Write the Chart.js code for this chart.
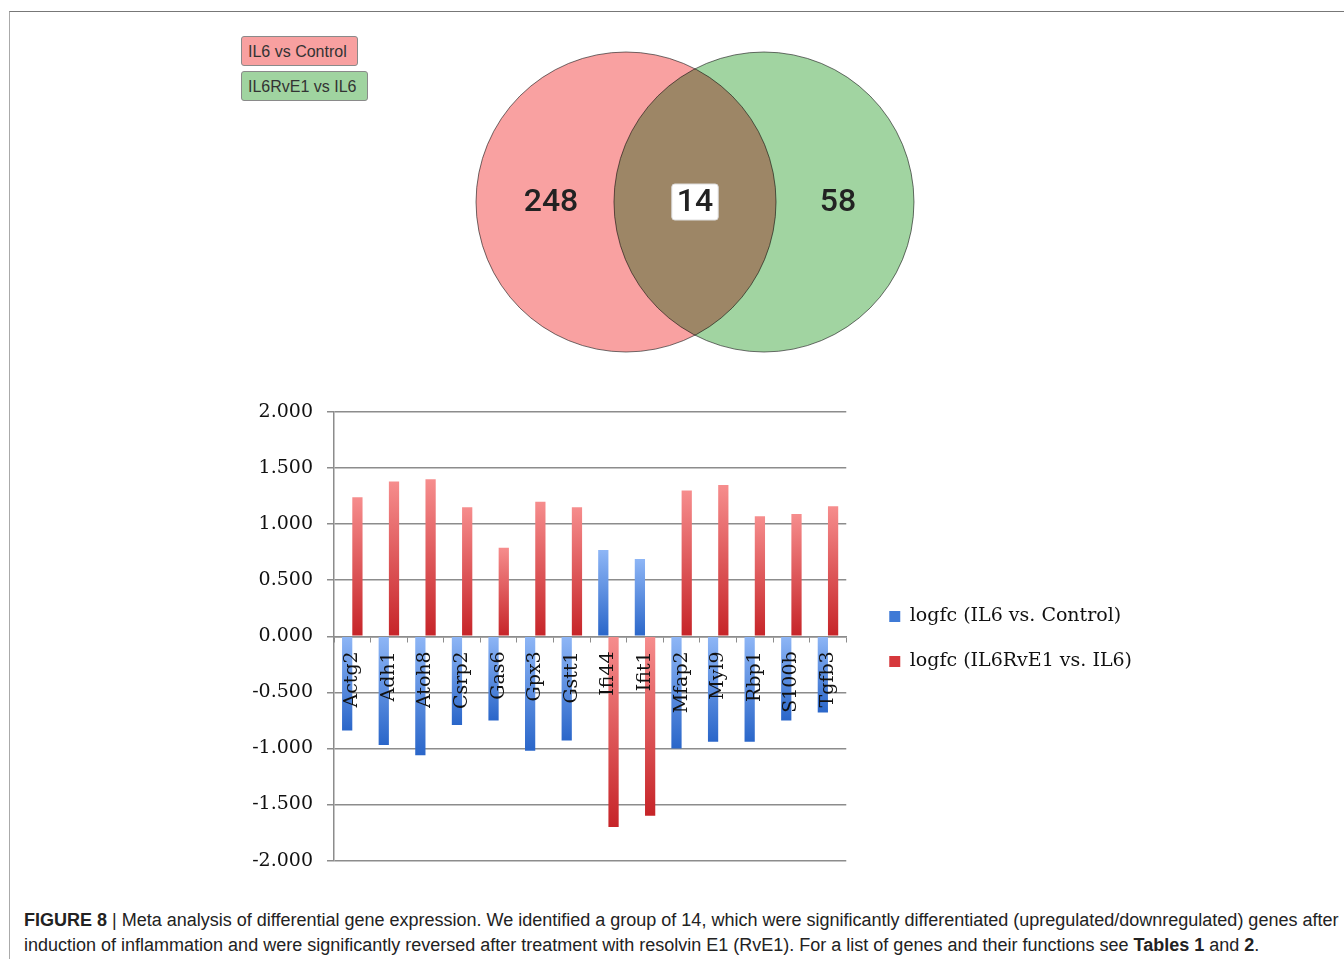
<!DOCTYPE html>
<html>
<head>
<meta charset="utf-8">
<script src="https://cdn.jsdelivr.net/npm/chart.js@4.4.1/dist/chart.umd.min.js"></script>
<style>
  body { margin: 0; background: #fff; }
  #page { position: relative; width: 1344px; height: 959px; overflow: hidden; font-family: "Liberation Sans", Arial, sans-serif; }
  #frame { position: absolute; left: 9px; top: 11px; width: 1400px; height: 1000px; border-top: 1px solid #777; border-left: 1px solid #aaa; }
  .vkey { position: absolute; left: 241px; height: 30px; line-height: 29px; padding-left: 6px; border: 1px solid #8a8a8a; border-radius: 3px; font-size: 16px; color: #333; box-sizing: border-box; }
  #k1 { top: 36px; width: 117px; background: #f8a0a0; }
  #k2 { top: 71px; width: 127px; background: #a0d4a0; }
  #venn { position: absolute; left: 426px; top: 42px; }
  #bars { position: absolute; left: 0; top: 380px; }
  #caption { position: absolute; left: 24px; top: 908px; font-size: 18px; line-height: 25px; color: #222; white-space: nowrap; }
</style>
</head>
<body>
<div id="page">
  <div id="frame"></div>
  <div class="vkey" id="k1"></div>
  <div class="vkey" id="k2"></div>
  <canvas id="venn" width="538" height="320"></canvas>
  <canvas id="bars" width="1344" height="506"></canvas>
  <div id="caption"><b>FIGURE 8</b> | Meta analysis of differential gene expression. We identified a group of 14, which were significantly differentiated (upregulated/downregulated) genes after<br>induction of inflammation and were significantly reversed after treatment with resolvin E1 (RvE1). For a list of genes and their functions see <b>Tables 1</b> and <b>2</b>.</div>
</div>
<script>
// venn: the two comparisons and the counts (only first, shared, only second)
const vennSets = ["IL6 vs Control", "IL6RvE1 vs IL6"];
const vennCounts = [248, 14, 58];

// bar chart data
const genes = ["Actg2", "Adh1", "Atoh8", "Csrp2", "Gas6", "Gpx3", "Gstt1", "Ifi44", "Ifit1", "Mfap2", "Myl9", "Rbp1", "S100b", "Tgfb3"];
const seriesNames = ["logfc (IL6 vs. Control)", "logfc (IL6RvE1 vs. IL6)"];
const il6VsControl = [-0.84, -0.97, -1.06, -0.79, -0.75, -1.02, -0.93, 0.77, 0.69, -1.00, -0.94, -0.94, -0.75, -0.68];
const rve1VsIl6 = [1.24, 1.38, 1.40, 1.15, 0.79, 1.20, 1.15, -1.70, -1.60, 1.30, 1.35, 1.07, 1.09, 1.16];
const yTicks = [-2, -1.5, -1, -0.5, 0, 0.5, 1, 1.5, 2];

document.getElementById("k1").textContent = vennSets[0];
document.getElementById("k2").textContent = vennSets[1];

// --- venn diagram (bubble chart, circles blended with multiply) ---
const vennPlugin = {
  id: "vennBlend",
  beforeDatasetsDraw(chart) {
    chart.ctx.save();
    chart.ctx.globalCompositeOperation = "multiply";
  },
  afterDatasetsDraw(chart) {
    const ctx = chart.ctx;
    ctx.restore();
    const pts = chart.getDatasetMeta(0).data;
    const mid = (pts[0].x + pts[1].x) / 2;
    const xs = [pts[0].x - 75, mid, pts[1].x + 74];
    const y = pts[0].y;
    ctx.save();
    ctx.font = "500 32px Roboto, 'Liberation Sans', sans-serif";
    ctx.textAlign = "center";
    ctx.textBaseline = "middle";
    // white box behind the shared count
    const w = ctx.measureText(String(vennCounts[1])).width + 10;
    ctx.fillStyle = "#fff";
    ctx.strokeStyle = "#ddd";
    ctx.beginPath();
    ctx.roundRect(mid - w / 2, y - 18, w, 36, 3);
    ctx.fill();
    ctx.stroke();
    ctx.fillStyle = "#222";
    vennCounts.forEach((n, i) => ctx.fillText(String(n), xs[i], y + 1));
    ctx.restore();
  }
};

new Chart(document.getElementById("venn"), {
  type: "bubble",
  data: {
    datasets: [{
      data: [{ x: -0.5, y: 0, r: 150 }, { x: 0.5, y: 0, r: 150 }],
      backgroundColor: ["#f9a1a1", "#a1d4a1"],
      borderColor: "#707070",
      borderWidth: 1,
      clip: false
    }]
  },
  options: {
    responsive: false,
    animation: false,
    events: [],
    layout: { padding: 0, autoPadding: false },
    scales: {
      x: { type: "linear", min: -1.95, max: 1.95, display: false },
      y: { type: "linear", min: -1, max: 1, display: false }
    },
    plugins: { legend: { display: false }, tooltip: { enabled: false } }
  },
  plugins: [vennPlugin]
});

// --- bar chart ---
function barFill(light, dark) {
  return function (c) {
    if (c.type !== "data" || !c.chart.chartArea) return dark;
    const y = c.chart.scales.y;
    const v = c.raw;
    const top = y.getPixelForValue(Math.max(v, 0));
    const bot = y.getPixelForValue(Math.min(v, 0));
    const g = c.chart.ctx.createLinearGradient(0, top, 0, bot);
    g.addColorStop(0, light);
    g.addColorStop(1, dark);
    return g;
  };
}

const serif = "'DejaVu Serif', serif";
const keyColors = ["#3f7ad6", "#d6383c"];

new Chart(document.getElementById("bars"), {
  type: "bar",
  data: {
    labels: genes,
    datasets: [
      { label: seriesNames[0], data: il6VsControl, backgroundColor: barFill("#8eb6f6", "#2a66c9") },
      { label: seriesNames[1], data: rve1VsIl6, backgroundColor: barFill("#f68d8d", "#c62428") }
    ]
  },
  options: {
    responsive: false,
    animation: false,
    events: [],
    categoryPercentage: 0.56,
    barPercentage: 1.0,
    layout: { padding: { left: 244, top: 32, bottom: 20, right: 202 }, autoPadding: false },
    scales: {
      x: {
        position: { y: 0 },
        offset: true,
        grid: { offset: true, drawOnChartArea: false, drawTicks: true, tickLength: 5, color: "#8c8c8c" },
        border: { display: true, color: "#8c8c8c", width: 1.5 },
        ticks: { z: 1, minRotation: 90, maxRotation: 90, autoSkip: false, padding: 10, color: "#111", font: { family: serif, size: 19 } },
        afterFit(s) { s.height = 0; }
      },
      y: {
        min: -2,
        max: 2,
        afterBuildTicks(s) { s.ticks = yTicks.map(v => ({ value: v })); },
        grid: { color: "#8c8c8c", lineWidth: 1.5, tickLength: 7 },
        border: { display: true, color: "#8c8c8c", width: 1.5 },
        ticks: { padding: 14, color: "#111", font: { family: serif, size: 19 }, callback: v => Number(v).toFixed(3) },
        afterFit(s) { s.width = 90; }
      },
      gap: {
        position: "right",
        display: true,
        grid: { display: false },
        border: { display: false },
        ticks: { display: false },
        afterFit(s) { s.width = 17; }
      }
    },
    plugins: {
      tooltip: { enabled: false },
      legend: {
        position: "right",
        maxWidth: 400,
        labels: {
          boxWidth: 11, boxHeight: 11, padding: 26, color: "#111", font: { family: serif, size: 19 },
          generateLabels(chart) {
            return Chart.defaults.plugins.legend.labels.generateLabels(chart).map((l, i) =>
              Object.assign(l, { fillStyle: keyColors[i], strokeStyle: keyColors[i], lineWidth: 0 }));
          }
        }
      }
    }
  }
});
</script>
</body>
</html>
